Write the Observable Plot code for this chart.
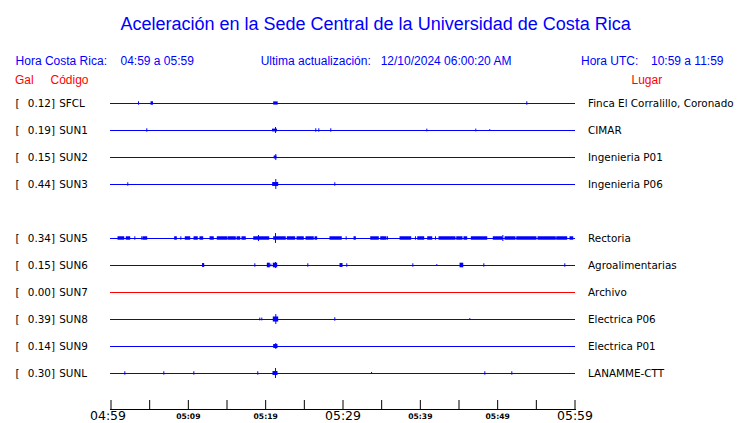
<!DOCTYPE html>
<html><head><meta charset="utf-8">
<script src="https://cdn.jsdelivr.net/npm/d3@7"></script>
<script src="https://cdn.jsdelivr.net/npm/@observablehq/plot@0.6"></script>
<style>
body{margin:0;background:#fff;}
#hdr{position:relative;width:740px;height:90px;font-family:'Liberation Sans',Arial,sans-serif;font-size:12px;line-height:12px;color:#0000ff;}
#hdr span{position:absolute;white-space:nowrap;}
#hdr .t{font-size:18px;line-height:18px;top:14.8px;left:375.6px;transform:translateX(-50%);}
#hdr .r{color:#ff0000;top:74.3px;}
#hdr .b{top:54.8px;}
</style></head><body>
<div id="hdr">
<span class="t">Aceleración en la Sede Central de la Universidad de Costa Rica</span>
<span class="b" style="left:15.6px">Hora Costa Rica:</span>
<span class="b" style="left:120.5px">04:59 a 05:59</span>
<span class="b" style="left:260.7px">Ultima actualización:</span>
<span class="b" style="left:380.7px">12/10/2024 06:00:20 AM</span>
<span class="b" style="left:581px">Hora UTC:</span>
<span class="b" style="left:651px">10:59 a 11:59</span>
<span class="r" style="left:15px">Gal</span>
<span class="r" style="left:50.5px">Código</span>
<span class="r" style="left:631.5px">Lugar</span>
</div>
<div id="chart"></div>
<script>
// Stations (SUN4 is an empty slot in the display)
const codes  = ["SFCL","SUN1","SUN2","SUN3","SUN4","SUN5","SUN6","SUN7","SUN8","SUN9","SUNL"];
const maxGal = [0.12, 0.19, 0.15, 0.44, null, 0.34, 0.15, 0.00, 0.39, 0.14, 0.30];
const places = ["Finca El Corralillo, Coronado","CIMAR","Ingenieria P01","Ingenieria P06","",
                "Rectoria","Agroalimentarias","Archivo","Electrica P06","Electrica P01","LANAMME-CTT"];

// Trace events: [start minute, end minute, amplitude (gal)] — minutes after 04:59
const evSFCL = [[3.56,3.56,0.15],[5.24,5.43,0.15],[21.1,21.55,0.14],[53.77,53.77,0.15]];
const evSUN1 = [[4.63,4.63,0.15],[20.95,21.47,0.12],[21.27,21.27,0.26],[26.48,26.48,0.15],[26.87,26.87,0.15],
                [28.42,28.42,0.15],[40.84,40.84,0.12],[47.17,47.17,0.12],[48.98,48.98,0.08]];
const evSUN2 = [[21.1,21.1,0.12],[21.2,21.4,0.12],[21.31,21.31,0.26]];
const evSUN3 = [[2.17,2.17,0.15],[20.97,21.62,0.17],[21.31,21.31,0.43],[28.94,28.94,0.15]];
const evSUN4 = [];
const evSUN5 = [[0.97,1.71,0.15],[2.04,2.48,0.15],[3.08,3.08,0.15],[3.98,3.98,0.15],[4.2,4.68,0.15],
                [8.3,8.51,0.15],[9.03,9.03,0.15],[9.67,10.24,0.15],[10.8,11.22,0.15],[11.57,11.92,0.15],
                [12.87,13.29,0.15],[13.81,15.03,0.15],[15.19,16.14,0.15],[16.36,16.71,0.15],[17.0,17.43,0.15],
                [18.52,20.46,0.15],[19.07,19.07,0.26],[21.27,21.27,0.43],[21.1,22.6,0.15],[22.86,23.82,0.15],
                [24.12,24.93,0.15],[25.28,26.22,0.15],[26.45,26.66,0.15],[28.38,29.84,0.15],[30.41,30.41,0.15],
                [31.49,31.66,0.15],[33.65,34.63,0.15],[34.94,35.2,0.15],[35.28,35.63,0.15],[35.76,35.76,0.15],
                [37.44,38.82,0.15],[39.37,39.37,0.15],[39.73,40.5,0.15],[41.02,41.54,0.15],[41.96,41.96,0.15],
                [42.48,44.55,0.15],[44.77,45.45,0.15],[45.71,46.06,0.15],[46.66,48.65,0.15],[49.5,50.63,0.15],
                [50.67,50.67,0.26],[51.02,52.31,0.15],[52.53,55.02,0.15],[55.28,57.52,0.15],[57.7,58.99,0.15],
                [59.42,59.77,0.15]];
const evSUN6 = [[11.9,12.05,0.17],[18.6,18.6,0.15],[20.28,20.54,0.2],[20.67,20.67,0.12],[21.05,21.49,0.2],
                [21.27,21.27,0.26],[25.45,25.45,0.15],[29.68,29.94,0.17],[30.49,30.49,0.15],[39.03,39.03,0.15],
                [42.13,42.13,0.08],[45.2,45.55,0.2],[48.21,48.21,0.15],[58.68,58.68,0.15]];
const evSUN7 = [];
const evSUN8 = [[19.24,19.24,0.12],[19.5,19.5,0.12],[21.05,21.62,0.22],[21.31,21.31,0.43],[28.94,28.94,0.15],[46.4,46.4,0.08]];
const evSUN9 = [[21.1,21.53,0.17],[21.31,21.31,0.26]];
const evSUNL = [[1.79,1.79,0.15],[6.83,6.83,0.15],[10.71,10.71,0.15],[18.98,18.98,0.15],[21.01,21.53,0.17],
                [21.27,21.27,0.43],[33.69,33.69,0.09],[48.34,48.34,0.15],[51.83,51.83,0.15]];

// Time axis
const tickMinutes = [0,5,10,15,20,25,30,35,40,45,50,55,60];
const labelMinutes = [0,10,20,30,40,50,60];
const tickLabels = ["04:59","05:09","05:19","05:29","05:39","05:49","05:59"];

// ---- build tables ----
const events = [evSFCL,evSUN1,evSUN2,evSUN3,evSUN4,evSUN5,evSUN6,evSUN7,evSUN8,evSUN9,evSUNL];
const rows = codes.map((code,i)=>({code, row:i, max:maxGal[i], place:places[i]})).filter(d=>d.max!==null);
const ev = events.flatMap((arr,i)=>arr.map(([t0,t1,amp])=>({row:i,t0,t1,amp})));
const bursts = ev.filter(d=>d.t1>d.t0);
const spikes = ev.filter(d=>d.t1===d.t0);
const galPerRow = 27/11.5;
const traceColor = d => d.max === 0 ? "#ff0000" : "#0000ff";
const labels = labelMinutes.map((m,i)=>({m, text:tickLabels[i], major: m % 30 === 0}));
const W = 740, H = 333, MB = 14;

const chart = Plot.plot({
  width: W, height: H, marginTop: 0, marginBottom: MB, marginLeft: 110, marginRight: 165,
  x: {domain: [0,60], range: [110.5,574.5], axis: null},
  y: {domain: [0,10], range: [13,283], axis: null},
  style: {fontFamily: "DejaVu Sans", background: "white", color: "black"},
  marks: [
    Plot.ruleY(rows, {y: "row", stroke: traceColor, strokeWidth: 1}),
    Plot.rect(bursts, {x1: "t0", x2: "t1", y1: d=>d.row - d.amp/galPerRow, y2: d=>d.row + d.amp/galPerRow,
      fill: "#0000ff", insetLeft: -0.5, insetRight: -0.5}),
    Plot.ruleX(spikes, {x: "t0", y1: d=>d.row - d.amp/galPerRow, y2: d=>d.row + d.amp/galPerRow, stroke: "#0000ff"}),
    Plot.text(rows, {y: "row", frameAnchor: "left", dx: -95, text: () => "[", textAnchor: "start", fontSize: 10.4, fill: "black"}),
    Plot.text(rows, {y: "row", frameAnchor: "left", dx: -55.5, text: d => d.max.toFixed(2) + "]", textAnchor: "end", fontSize: 10.4, fill: "black"}),
    Plot.text(rows, {y: "row", frameAnchor: "left", dx: -51.3, text: "code", textAnchor: "start", fontSize: 10.4, fill: "black"}),
    Plot.text(rows, {y: "row", frameAnchor: "right", dx: 12.5, text: "place", textAnchor: "start", fontSize: 10.4, fill: "black"}),
    Plot.frame({anchor: "bottom", stroke: "black"}),
    Plot.ruleX(tickMinutes, {x: d=>d, insetTop: H - MB - 9, stroke: "black"}),
    Plot.text(labels.filter(d=>d.major && d.m === 0), {x: "m", text: "text", frameAnchor: "bottom", dy: 10.5, dx: -3,
      fontSize: 12.5, fontFamily: "DejaVu Sans", letterSpacing: "1px", fill: "black"}),
    Plot.text(labels.filter(d=>d.major && d.m !== 0), {x: "m", text: "text", frameAnchor: "bottom", dy: 10.5,
      fontSize: 12.5, fontFamily: "DejaVu Sans", letterSpacing: "1px", fill: "black"}),
    Plot.text(labels.filter(d=>!d.major), {x: "m", text: "text", frameAnchor: "bottom", dy: 9,
      fontSize: 7.6, fontWeight: "bold", fontFamily: "DejaVu Sans", fill: "black"})
  ]
});
document.getElementById("chart").append(chart);
</script>
</body></html>
